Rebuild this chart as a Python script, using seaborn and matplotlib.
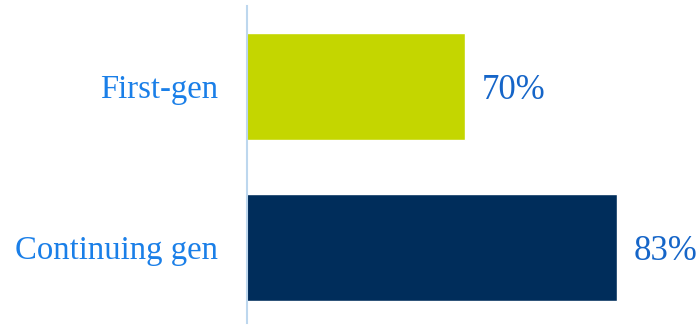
import matplotlib
matplotlib.use("Agg")
import matplotlib.pyplot as plt
import seaborn as sns
import pandas as pd

# Share of students by generation status
groups = ["First-gen", "Continuing gen"]
values = [70, 83]
bar_colors = ["#c4d600", "#002d5b"]

df = pd.DataFrame({"group": groups, "value": values})

sns.set_theme(style="white")
plt.rcParams["font.family"] = ["Liberation Serif", "DejaVu Serif"]

fig = plt.figure(figsize=(6.99, 3.25), dpi=100)
ax = fig.add_axes([247 / 699, 2 / 325, 1 - 247 / 699, 317 / 325])

sns.barplot(data=df, y="group", x="value", hue="group", palette=bar_colors,
            order=groups, hue_order=groups, width=0.66, legend=False,
            saturation=1, ax=ax)

ax.set_xlim(51.3, 90)
ax.set_ylim(1.469, -0.5)

for i, v in enumerate(values):
    ax.annotate(f"{v}%", xy=(v, i), xytext=(11.5, 0), textcoords="offset points",
                va="center_baseline", ha="left", fontsize=25, color="#1565c8",
                annotation_clip=False)

for side in ["top", "right", "bottom"]:
    ax.spines[side].set_visible(False)
ax.spines["left"].set_color("#bdd7ee")
ax.spines["left"].set_linewidth(1.5)

ax.set_xticks([])
ax.set_xlabel("")
ax.set_ylabel("")
ax.tick_params(axis="y", length=0, pad=21, labelsize=23.6, labelcolor="#1a7fe8")
for lab in ax.get_yticklabels():
    lab.set_verticalalignment("center_baseline")

fig.savefig("out.png", dpi=100)
